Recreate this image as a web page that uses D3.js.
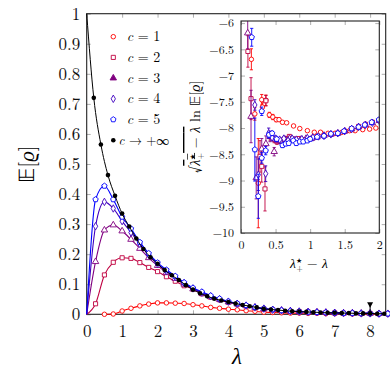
<!DOCTYPE html>
<html>
<head>
<meta charset="utf-8">
<script src="https://cdn.jsdelivr.net/npm/d3@7"></script>
<style>
body { margin: 0; background: #fff; }
svg { display: block; }
text { white-space: pre; }
</style>
</head>
<body>
<div id="chart"></div>
<script>
// main plot: c -> +inf curve (0.2 grid)
var lamInf = [0, 0.2, 0.4, 0.6, 0.8, 1.0, 1.2, 1.4, 1.6, 1.8, 2.0, 2.2, 2.4, 2.6, 2.8, 3.0, 3.2, 3.4, 3.6, 3.8,
  4.0, 4.2, 4.4, 4.6, 4.8, 5.0, 5.2, 5.4, 5.6, 5.8, 6.0, 6.2, 6.4, 6.6, 6.8, 7.0, 7.2, 7.4, 7.6, 7.8, 8.0, 8.2, 8.4];
var eInf = [1.0, 0.72, 0.565, 0.463, 0.394, 0.335, 0.292, 0.252, 0.217, 0.19, 0.168, 0.147, 0.130, 0.114, 0.097,
  0.082, 0.070, 0.060, 0.052, 0.046, 0.041, 0.036, 0.031, 0.027, 0.023, 0.018, 0.016, 0.014, 0.012, 0.010,
  0.009, 0.008, 0.007, 0.006, 0.005, 0.005, 0.004, 0.004, 0.003, 0.003, 0.003, 0.002, 0.002];

// finite c (0.25 grid)
var lamC = [0, 0.25, 0.5, 0.75, 1.0, 1.25, 1.5, 1.75, 2.0, 2.25, 2.5, 2.75, 3.0, 3.25, 3.5, 3.75, 4.0, 4.25,
  4.5, 4.75, 5.0, 5.25, 5.5, 5.75, 6.0, 6.25, 6.5, 6.75, 7.0, 7.25, 7.5, 7.75, 8.0, 8.25, 8.5];
var eC1 = [null, null, 0.0, 0.001, 0.011, 0.020, 0.028, 0.034, 0.038, 0.038, 0.037, 0.036, 0.032, 0.028, 0.023,
  0.020, 0.017, 0.015, 0.012, 0.010, 0.007, 0.006, 0.005, 0.004, 0.004, 0.003, 0.003, 0.002, 0.002, 0.002,
  0.001, 0.001, 0.001, 0.001, 0.001];
var eC2 = [0, 0.035, 0.131, 0.173, 0.188, 0.186, 0.172, 0.156, 0.142, 0.125, 0.110, 0.095, 0.084, 0.068, 0.057,
  0.048, 0.040, 0.034, 0.028, 0.022, 0.018, 0.015, 0.012, 0.010, 0.009, 0.008, 0.007, 0.006, 0.005, 0.004,
  0.004, 0.003, 0.003, 0.002, 0.002];
var eC3 = [0, 0.175, 0.280, 0.297, 0.277, 0.249, 0.219, 0.188, 0.162, 0.139, 0.119, 0.100, 0.084, 0.070, 0.058,
  0.049, 0.041, 0.034, 0.028, 0.023, 0.018, 0.015, 0.013, 0.011, 0.009, 0.008, 0.007, 0.006, 0.005, 0.004,
  0.004, 0.003, 0.003, 0.002, 0.002];
var eC4 = [0, 0.293, 0.374, 0.352, 0.310, 0.272, 0.234, 0.198, 0.168, 0.144, 0.124, 0.104, 0.086, 0.072, 0.060,
  0.050, 0.042, 0.035, 0.029, 0.023, 0.019, 0.015, 0.013, 0.011, 0.009, 0.008, 0.007, 0.006, 0.005, 0.004,
  0.004, 0.003, 0.003, 0.002, 0.002];
var eC5 = [0, 0.382, 0.427, 0.382, 0.324, 0.285, 0.240, 0.203, 0.172, 0.148, 0.127, 0.106, 0.088, 0.075, 0.062,
  0.052, 0.043, 0.036, 0.030, 0.024, 0.019, 0.016, 0.013, 0.011, 0.009, 0.008, 0.007, 0.006, 0.005, 0.004,
  0.004, 0.003, 0.003, 0.002, 0.002];

// inset: x = lambda*_+ - lambda, y = sqrt(x) ln E, err = half bar
var insX1 = [0.15, 0.20, 0.25, 0.30, 0.31, 0.36, 0.41, 0.46, 0.51, 0.55, 0.60, 0.66, 0.76, 0.85, 0.96, 1.06, 1.15, 1.26, 1.36, 1.46, 1.57, 1.65, 1.76, 1.86, 1.95];
var insY1 = [-6.69, -7.73, -9.05, -7.46, -7.6, -7.47, -7.75, -7.79, -7.84, -7.84, -7.89, -7.9, -7.96, -8.01, -8.05, -8.08, -8.08, -8.1, -8.1, -8.08, -8.05, -8.05, -8.03, -8.02, -8.0];
var insE1 = [0.2, 0.12, 0.85, 0.1, 0.08, 0.1, 0.05, 0.05, 0.04, 0.03, 0.03, 0.02, 0.02, 0.02, 0.02, 0.02, 0.02, 0.02, 0.02, 0.02, 0.02, 0.02, 0.02, 0.02, 0.02];

var insX2 = [0.10, 0.145, 0.275, 0.30, 0.347, 0.36, 0.42, 0.48, 0.52, 0.58, 0.64, 0.70, 0.76, 0.84, 0.92, 1.0, 1.1, 1.2, 1.3, 1.4, 1.5, 1.6, 1.7, 1.8, 1.9, 2.0];
var insY2 = [-6.54, -7.44, -8.54, -8.73, -9.16, -7.48, -8.15, -8.22, -8.26, -8.25, -8.2, -8.16, -8.21, -8.2, -8.22, -8.2, -8.17, -8.15, -8.12, -8.1, -8.06, -8.01, -7.97, -7.93, -7.89, -7.85];
var insE2 = [0.3, 0.4, 0.3, 0.3, 0.42, 0.1, 0.08, 0.06, 0.05, 0.04, 0.04, 0.03, 0.03, 0.02, 0.02, 0.02, 0.02, 0.02, 0.02, 0.02, 0.02, 0.02, 0.02, 0.02, 0.02, 0.02];

var insX3 = [0.097, 0.145, 0.22, 0.30, 0.36, 0.42, 0.48, 0.52, 0.58, 0.64, 0.70, 0.78, 0.86, 0.94, 1.02, 1.1, 1.2, 1.3, 1.4, 1.5, 1.6, 1.7, 1.8, 1.9, 2.0];
var insY3 = [-6.19, -7.78, -8.95, -8.4, -8.3, -8.16, -8.45, -8.23, -8.25, -8.22, -8.2, -8.23, -8.22, -8.2, -8.2, -8.17, -8.14, -8.12, -8.1, -8.06, -8.02, -7.98, -7.94, -7.9, -7.86];
var insE3 = [0.3, 0.5, 0.4, 0.2, 0.15, 0.1, 0.08, 0.05, 0.05, 0.04, 0.03, 0.03, 0.03, 0.02, 0.02, 0.02, 0.02, 0.02, 0.02, 0.02, 0.02, 0.02, 0.02, 0.02, 0.02];

var insX4 = [0.2, 0.25, 0.357, 0.40, 0.45, 0.5, 0.56, 0.62, 0.68, 0.74, 0.8, 0.88, 0.96, 1.04, 1.12, 1.2, 1.3, 1.4, 1.5, 1.6, 1.7, 1.8, 1.9, 2.0];
var insY4 = [-7.56, -8.89, -8.87, -8.1, -8.18, -8.2, -8.22, -8.2, -8.24, -8.2, -8.22, -8.21, -8.19, -8.18, -8.16, -8.15, -8.12, -8.1, -8.06, -8.02, -7.98, -7.94, -7.9, -7.86];
var insE4 = [0.1, 0.3, 0.15, 0.1, 0.06, 0.05, 0.04, 0.04, 0.03, 0.03, 0.03, 0.02, 0.02, 0.02, 0.02, 0.02, 0.02, 0.02, 0.02, 0.02, 0.02, 0.02, 0.02, 0.02];

var insX5 = [0.155, 0.2, 0.25, 0.3, 0.3, 0.357, 0.405, 0.45, 0.516, 0.6, 0.645, 0.69, 0.756, 0.8, 0.85, 0.9, 0.96, 1.0, 1.1, 1.2, 1.3, 1.4, 1.49, 1.6, 1.7, 1.79, 1.89, 1.995];
var insY5 = [-6.27, -8.41, -9.3, -7.68, -8.57, -8.43, -8.13, -8.1, -8.21, -8.33, -8.3, -8.29, -8.24, -8.29, -8.26, -8.26, -8.24, -8.21, -8.17, -8.15, -8.11, -8.1, -8.06, -8.01, -7.98, -7.94, -7.89, -7.84];
var insE5 = [0.17, 0.6, 0.42, 0.08, 0.1, 0.08, 0.05, 0.04, 0.04, 0.04, 0.03, 0.03, 0.03, 0.03, 0.02, 0.02, 0.02, 0.02, 0.02, 0.02, 0.02, 0.02, 0.02, 0.02, 0.02, 0.02, 0.02, 0.02];

// ticks
var xTicks = [0, 1, 2, 3, 4, 5, 6, 7, 8];
var yTicks = [0, 0.1, 0.2, 0.3, 0.4, 0.5, 0.6, 0.7, 0.8, 0.9, 1];
var insXTicks = [0, 0.5, 1, 1.5, 2];
var insYTicks = [-10, -9.5, -9, -8.5, -8, -7.5, -7, -6.5, -6];
var legendLabels = ["1", "2", "3", "4", "5"];
var markLam = 8;

var serif = "'Latin Modern Roman', 'Liberation Serif', serif";

// pentagon symbol (pgfplots style)
var symPentagon = {
  draw: function(ctx, size) {
    var r = Math.sqrt(size / 2.3776);
    for (var k = 0; k < 5; k++) {
      var a = -Math.PI / 2 + k * 2 * Math.PI / 5;
      if (k == 0) ctx.moveTo(r * Math.cos(a), r * Math.sin(a));
      else ctx.lineTo(r * Math.cos(a), r * Math.sin(a));
    }
    ctx.closePath();
  }
};

var series = [
  { vals: eC1, color: "rgb(255,0,0)", sym: d3.symbolCircle, size: 16, ix: insX1, iy: insY1, ie: insE1 },
  { vals: eC2, color: "rgb(191,0,64)", sym: d3.symbolSquare, size: 17, ix: insX2, iy: insY2, ie: insE2 },
  { vals: eC3, color: "rgb(128,0,128)", sym: d3.symbolTriangle, size: 18, ix: insX3, iy: insY3, ie: insE3 },
  { vals: eC4, color: "rgb(64,0,191)", sym: d3.symbolDiamond, size: 16, ix: insX4, iy: insY4, ie: insE4 },
  { vals: eC5, color: "rgb(0,0,255)", sym: symPentagon, size: 19, ix: insX5, iy: insY5, ie: insE5 }
];

var svg = d3.select("#chart").append("svg")
  .attr("width", 390)
  .attr("height", 374)
  .attr("font-family", serif);

var x = d3.scaleLinear().domain([0, 8.44]).range([86.7, 385.7]);
var y = d3.scaleLinear().domain([0, 1]).range([314.3, 13.7]);

//main ticks, inside on all four sides
svg.append("g")
  .attr("class", "axis")
  .attr("transform", "translate(0," + y(0) + ")")
  .call(d3.axisBottom(x).tickValues(xTicks).tickSize(-4).tickPadding(11).tickFormat(d3.format("d")));
svg.append("g")
  .attr("class", "axis")
  .attr("transform", "translate(0," + y(1) + ")")
  .call(d3.axisTop(x).tickValues(xTicks).tickSize(-4).tickFormat(""));
svg.append("g")
  .attr("class", "axis")
  .attr("transform", "translate(" + x(0) + ",0)")
  .call(d3.axisLeft(y).tickValues(yTicks).tickSize(-4).tickPadding(6.5).tickFormat(d3.format("~g")));
svg.append("g")
  .attr("class", "axis")
  .attr("transform", "translate(" + x.range()[1] + ",0)")
  .call(d3.axisRight(y).tickValues(yTicks).tickSize(-4).tickFormat(""));

svg.selectAll(".axis").attr("font-family", serif).attr("font-size", 17);
svg.selectAll(".domain").remove();
svg.selectAll(".tick line").attr("stroke", "#999").attr("stroke-width", 0.8);
svg.selectAll(".tick text").attr("fill", "#111");

// frame
svg.append("rect")
  .attr("x", x(0)).attr("y", y(1))
  .attr("width", x.range()[1] - x(0)).attr("height", y(0) - y(1))
  .attr("fill", "none").attr("stroke", "#222").attr("stroke-width", 1.1);

// curves
var line = d3.line()
  .defined(d => d[1] != null)
  .x(d => x(d[0])).y(d => y(d[1]))
  .curve(d3.curveMonotoneX);

series.forEach(function(s) {
  var pts = lamC.map((l, i) => [l, s.vals[i]]);
  svg.append("path")
    .datum(pts)
    .attr("d", line)
    .attr("fill", "none")
    .attr("stroke", s.color)
    .attr("stroke-width", 1.1);
  svg.selectAll(null)
    .data(pts.filter(d => d[0] > 0 && d[1] != null))
    .enter().append("path")
    .attr("transform", d => "translate(" + x(d[0]) + "," + y(d[1]) + ")")
    .attr("d", d3.symbol().type(s.sym).size(s.size))
    .attr("fill", "#fff")
    .attr("stroke", s.color)
    .attr("stroke-width", 0.9);
});

var infPts = lamInf.map((l, i) => [l, eInf[i]]);
svg.append("path")
  .datum(infPts)
  .attr("d", line)
  .attr("fill", "none")
  .attr("stroke", "#000")
  .attr("stroke-width", 1);
svg.selectAll(".dot")
  .data(infPts.filter(d => d[0] > 0))
  .enter().append("circle")
  .attr("class", "dot")
  .attr("cx", d => x(d[0]))
  .attr("cy", d => y(d[1]))
  .attr("r", 2.3)
  .attr("fill", "#000");

// pin marker at lambda = 8
svg.append("line")
  .attr("x1", x(markLam)).attr("x2", x(markLam))
  .attr("y1", y(0.035)).attr("y2", y(0))
  .attr("stroke", "#000").attr("stroke-width", 1);
svg.append("path")
  .attr("d", "M" + (x(markLam) - 3) + "," + y(0.04) + "L" + (x(markLam) + 3) + "," + y(0.04) + "L" + x(markLam) + "," + y(0.022) + "Z")
  .attr("fill", "#000");

// axis labels
svg.append("text")
  .attr("x", 237).attr("y", 364)
  .attr("text-anchor", "middle")
  .attr("font-size", 23).attr("font-style", "italic")
  .text("λ");

var yl = svg.append("text")
  .attr("transform", "translate(34,164) rotate(-90)")
  .attr("text-anchor", "middle")
  .attr("font-size", 21);
yl.append("tspan").text("𝔼[");
yl.append("tspan").attr("font-style", "italic").text("ϱ");
yl.append("tspan").text("]");

// legend
var legend = svg.selectAll(".legend")
  .data(series)
  .enter().append("g")
  .attr("class", "legend")
  .attr("transform", (d, i) => "translate(0," + (36.7 + i * 20.7) + ")");

legend.append("path")
  .attr("transform", "translate(113.3,0)")
  .attr("d", d => d3.symbol().type(d.sym).size(d.size)())
  .attr("fill", d => d.sym == d3.symbolTriangle ? d.color : "#fff")
  .attr("stroke", d => d.color)
  .attr("stroke-width", 0.9);

var lt = legend.append("text")
  .attr("x", 143.5).attr("y", 4.5)
  .attr("text-anchor", "middle")
  .attr("font-size", 14);
lt.append("tspan").attr("font-style", "italic").text("c");
lt.append("tspan").text((d, i) => " = " + legendLabels[i]);

var infLeg = svg.append("g").attr("transform", "translate(0," + (36.7 + 5 * 20.7) + ")");
infLeg.append("circle").attr("cx", 113.3).attr("r", 2.3).attr("fill", "#000");
var it = infLeg.append("text")
  .attr("x", 144).attr("y", 4.5)
  .attr("text-anchor", "middle")
  .attr("font-size", 13);
it.append("tspan").attr("font-style", "italic").text("c");
it.append("tspan").text(" → +∞");

// ---------------- inset ----------------
var x2 = d3.scaleLinear().domain([0, 2]).range([241, 379.3]);
var y2 = d3.scaleLinear().domain([-10, -5.96]).range([233, 21]);

var inset = svg.append("g").attr("class", "inset");

inset.append("rect")
  .attr("x", x2(0)).attr("y", y2.range()[1])
  .attr("width", x2(2) - x2(0)).attr("height", y2.range()[0] - y2.range()[1])
  .attr("fill", "#fff");

inset.append("g")
  .attr("class", "iaxis")
  .attr("transform", "translate(0," + y2.range()[0] + ")")
  .call(d3.axisBottom(x2).tickValues(insXTicks).tickSize(-4).tickPadding(7).tickFormat(d3.format("~g")));
inset.append("g")
  .attr("class", "iaxis")
  .attr("transform", "translate(0," + y2.range()[1] + ")")
  .call(d3.axisTop(x2).tickValues(insXTicks).tickSize(-4).tickFormat(""));
inset.append("g")
  .attr("class", "iaxis")
  .attr("transform", "translate(" + x2(0) + ",0)")
  .call(d3.axisLeft(y2).tickValues(insYTicks).tickSize(-4).tickPadding(7).tickFormat(d3.format("~g")));
inset.append("g")
  .attr("class", "iaxis")
  .attr("transform", "translate(" + x2(2) + ",0)")
  .call(d3.axisRight(y2).tickValues(insYTicks).tickSize(-4).tickFormat(""));

inset.selectAll(".iaxis").attr("font-family", serif).attr("font-size", 12);
inset.selectAll(".domain").remove();
inset.selectAll(".tick line").attr("stroke", "#999").attr("stroke-width", 0.8);
inset.selectAll(".tick text").attr("fill", "#111");

svg.append("clipPath").attr("id", "insclip")
  .append("rect")
  .attr("x", x2(0)).attr("y", y2.range()[1])
  .attr("width", x2(2) - x2(0)).attr("height", y2.range()[0] - y2.range()[1]);

var plotIns = inset.append("g").attr("clip-path", "url(#insclip)");

series.forEach(function(s) {
  var pts = s.ix.map((v, i) => ({ x: v, y: s.iy[i], e: s.ie[i] }));
  var g = plotIns.append("g");
  var bars = g.selectAll(null).data(pts).enter().append("g")
    .attr("stroke", s.color).attr("stroke-width", 0.9);
  bars.append("line")
    .attr("x1", d => x2(d.x)).attr("x2", d => x2(d.x))
    .attr("y1", d => y2(d.y - d.e)).attr("y2", d => y2(d.y + d.e));
  bars.append("line")
    .attr("x1", d => x2(d.x) - 1.6).attr("x2", d => x2(d.x) + 1.6)
    .attr("y1", d => y2(d.y - d.e)).attr("y2", d => y2(d.y - d.e));
  bars.append("line")
    .attr("x1", d => x2(d.x) - 1.6).attr("x2", d => x2(d.x) + 1.6)
    .attr("y1", d => y2(d.y + d.e)).attr("y2", d => y2(d.y + d.e));
  g.selectAll(null).data(pts).enter().append("path")
    .attr("transform", d => "translate(" + x2(d.x) + "," + y2(d.y) + ")")
    .attr("d", d3.symbol().type(s.sym).size(s.size))
    .attr("fill", "#fff")
    .attr("stroke", s.color)
    .attr("stroke-width", 0.9);
});

inset.append("rect")
  .attr("x", x2(0)).attr("y", y2.range()[1])
  .attr("width", x2(2) - x2(0)).attr("height", y2.range()[0] - y2.range()[1])
  .attr("fill", "none").attr("stroke", "#222").attr("stroke-width", 1.1);

// inset labels
var xl2 = svg.append("text")
  .attr("x", 309).attr("y", 268)
  .attr("text-anchor", "middle")
  .attr("font-size", 13.5);
xl2.append("tspan").attr("font-style", "italic").text("λ");
xl2.append("tspan").attr("dy", -5).attr("font-size", 7).text("★");
xl2.append("tspan").attr("dx", -5.5).attr("dy", 8).attr("font-size", 8).text("+");
xl2.append("tspan").attr("dy", -3).text(" − ");
xl2.append("tspan").attr("font-style", "italic").text("λ");

var yl2 = svg.append("text")
  .attr("transform", "translate(200,127) rotate(-90)")
  .attr("text-anchor", "middle")
  .attr("font-size", 14);
yl2.append("tspan").attr("font-size", 16).text("√");
var ov = yl2.append("tspan").style("text-decoration", "overline");
ov.append("tspan").attr("font-style", "italic").text("λ");
ov.append("tspan").attr("dy", -5).attr("font-size", 7).text("★");
ov.append("tspan").attr("dx", -5.5).attr("dy", 8).attr("font-size", 8).text("+");
ov.append("tspan").attr("dy", -3).text(" − ");
ov.append("tspan").attr("font-style", "italic").text("λ");
yl2.append("tspan").text(" ln 𝔼[");
yl2.append("tspan").attr("font-style", "italic").text("ϱ");
yl2.append("tspan").text("]");
</script>
</body>
</html>
